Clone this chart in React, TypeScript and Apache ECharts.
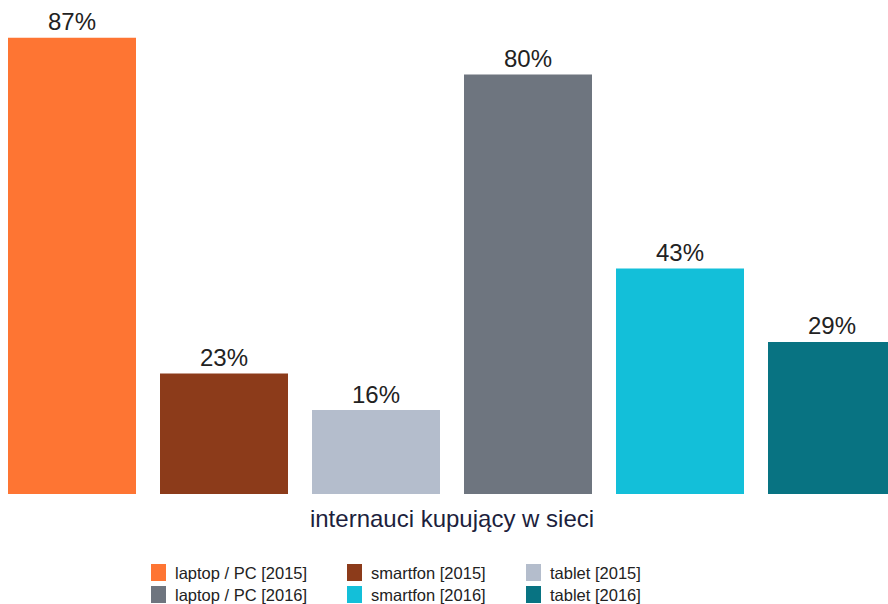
import React, { useEffect, useRef } from "react";
import * as echarts from "echarts";

const categories = ["internauci kupujący w sieci"];
const seriesNames = [
  "laptop / PC [2015]",
  "smartfon [2015]",
  "tablet [2015]",
  "laptop / PC [2016]",
  "smartfon [2016]",
  "tablet [2016]",
];
const seriesValues = [87, 23, 16, 80, 43, 29];
const seriesColors = ["#FE7533", "#8C3B1A", "#B4BDCC", "#6E757F", "#13BFD9", "#087382"];
const legendColumns = [
  ["laptop / PC [2015]", "laptop / PC [2016]"],
  ["smartfon [2015]", "smartfon [2016]"],
  ["tablet [2015]", "tablet [2016]"],
];
const legendLefts = [151, 347, 526];

export default function App() {
  const ref = useRef<HTMLDivElement>(null);
  useEffect(() => {
    if (!ref.current) return;
    const chart = echarts.init(ref.current, undefined, { renderer: "svg" });
    const font = "'Liberation Sans', Arial, sans-serif";
    chart.setOption({
      animation: false,
      textStyle: { fontFamily: font },
      grid: { left: 0, right: 6, top: 22, bottom: 110, containLabel: false },
      xAxis: {
        type: "category",
        data: categories,
        axisLine: { show: false },
        axisTick: { show: false },
        axisLabel: {
          fontSize: 24,
          color: "#1d1f3d",
          margin: 12,
          fontFamily: font,
        },
      },
      yAxis: {
        type: "value",
        min: 0,
        max: 90,
        show: false,
        splitLine: { show: false },
      },
      legend: legendColumns.map((col, i) => ({
        data: col,
        orient: "vertical",
        left: legendLefts[i],
        top: 564,
        padding: 0,
        itemWidth: 15,
        itemHeight: 17,
        itemGap: 5,
        icon: "rect",
        selectedMode: false,
        textStyle: {
          fontSize: 16.5,
          color: "#222",
          fontFamily: font,
          padding: [0, 0, 0, 4],
        },
      })),
      series: seriesNames.map((name, i) => ({
        name,
        type: "bar",
        data: [seriesValues[i]],
        barWidth: 128,
        barGap: "18.75%",
        itemStyle: { color: seriesColors[i] },
        label: {
          show: true,
          position: "top",
          distance: 4,
          formatter: "{c}%",
          fontSize: 24,
          color: "#222",
          fontFamily: font,
        },
      })),
    });
    return () => chart.dispose();
  }, []);
  return (
    <div
      style={{
        position: "absolute",
        left: 0,
        top: 0,
        width: 888,
        height: 604,
        overflow: "hidden",
        background: "#fff",
      }}
    >
      <div ref={ref} style={{ width: 910, height: 604 }} />
    </div>
  );
}
